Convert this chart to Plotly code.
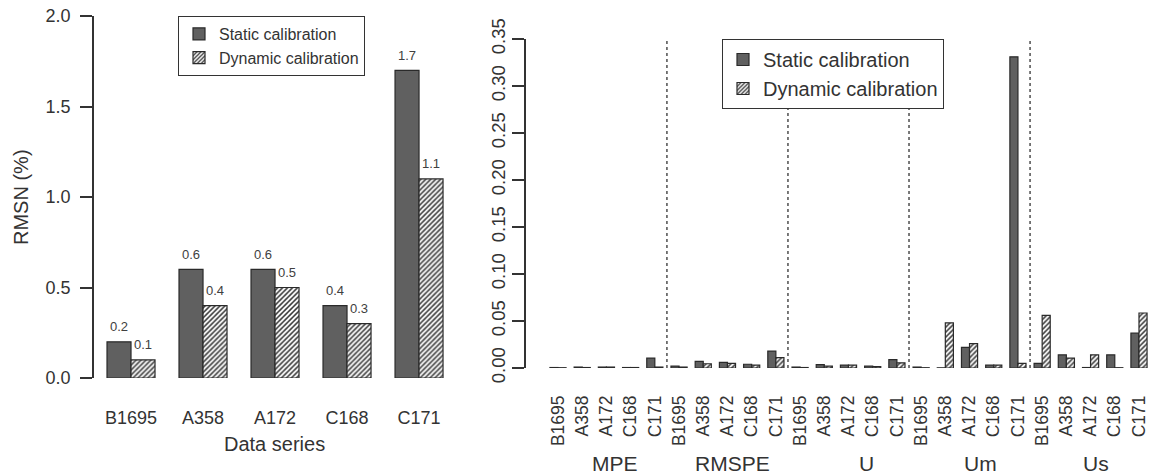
import plotly.graph_objects as go

# ---------------- data ----------------
series = ["B1695", "A358", "A172", "C168", "C171"]
rmsn_static = [0.2, 0.6, 0.6, 0.4, 1.7]
rmsn_dynamic = [0.1, 0.4, 0.5, 0.3, 1.1]

measures = ["MPE", "RMSPE", "U", "Um", "Us"]
mpe_static = [0.0005, 0.001, 0.001, 0.0005, 0.0105]
mpe_dynamic = [0.0003, 0.0005, 0.001, 0.0005, 0.001]
rmspe_static = [0.002, 0.007, 0.006, 0.004, 0.018]
rmspe_dynamic = [0.001, 0.0045, 0.005, 0.003, 0.011]
u_static = [0.001, 0.0035, 0.003, 0.002, 0.009]
u_dynamic = [0.0005, 0.002, 0.003, 0.0015, 0.0055]
um_static = [0.001, 0.0002, 0.022, 0.003, 0.331]
um_dynamic = [0.0003, 0.048, 0.026, 0.003, 0.005]
us_static = [0.005, 0.014, 0.0005, 0.014, 0.037]
us_dynamic = [0.056, 0.0105, 0.014, 0.0003, 0.0585]

W, H = 1151, 474
FONT = "Liberation Sans, Arial, sans-serif"
TXT = "#333333"
STATIC_FILL = "#606060"
EDGE = "#2a2a2a"

static_all = mpe_static + rmspe_static + u_static + um_static + us_static
dynamic_all = mpe_dynamic + rmspe_dynamic + u_dynamic + um_dynamic + us_dynamic
labels_all = series * len(measures)
xpos = list(range(len(labels_all)))

hatch = dict(shape="/", fgcolor="#3a3a3a", bgcolor="white", size=3.5, solidity=0.45, fillmode="replace")

fig = go.Figure()

# left panel
fig.add_trace(go.Bar(x=series, y=rmsn_static, name="Static calibration",
                     marker=dict(color=STATIC_FILL, line=dict(color=EDGE, width=1.2)),
                     xaxis="x", yaxis="y", legend="legend", offsetgroup="s"))
fig.add_trace(go.Bar(x=series, y=rmsn_dynamic, name="Dynamic calibration",
                     marker=dict(color="white", pattern=hatch, line=dict(color=EDGE, width=1.2)),
                     xaxis="x", yaxis="y", legend="legend", offsetgroup="d"))

# right panel
fig.add_trace(go.Bar(x=xpos, y=static_all, name="Static calibration",
                     marker=dict(color=STATIC_FILL, line=dict(color=EDGE, width=1.2)),
                     xaxis="x2", yaxis="y2", legend="legend2", offsetgroup="s"))
fig.add_trace(go.Bar(x=xpos, y=dynamic_all, name="Dynamic calibration",
                     marker=dict(color="white", pattern=hatch, line=dict(color=EDGE, width=1.2)),
                     xaxis="x2", yaxis="y2", legend="legend2", offsetgroup="d"))

# pixel helpers
def px_x(p):
    return p / W

def px_y(p):
    return (H - p) / H

annotations = []
# value labels on left bars
for s, v in zip(series, rmsn_static):
    annotations.append(dict(x=s, y=v, xref="x", yref="y", text=f"{v:.1f}", showarrow=False,
                            xanchor="center", yanchor="middle",
                            xshift=-12, yshift=15, font=dict(size=13, color="#404040", family=FONT)))
for s, v in zip(series, rmsn_dynamic):
    annotations.append(dict(x=s, y=v, xref="x", yref="y", text=f"{v:.1f}", showarrow=False,
                            xanchor="center", yanchor="middle",
                            xshift=12, yshift=15, font=dict(size=13, color="#404040", family=FONT)))

# axis titles
annotations.append(dict(x=px_x(21), y=px_y(197), xref="paper", yref="paper", text="RMSN (%)",
                        xanchor="center", yanchor="middle",
                        textangle=-90, showarrow=False, font=dict(size=20, color=TXT, family=FONT)))
annotations.append(dict(x=px_x(274), y=px_y(444), xref="paper", yref="paper", text="Data series",
                        xanchor="center", yanchor="middle",
                        showarrow=False, font=dict(size=20, color=TXT, family=FONT)))

# measure group labels
group_label_x = [2.36, 7.19, 12.73, 17.44, 22.23]
for m, gx in zip(measures, group_label_x):
    annotations.append(dict(x=gx, y=px_y(463), xref="x2", yref="paper", text=m, showarrow=False,
                            xanchor="center", yanchor="middle",
                            font=dict(size=21, color=TXT, family=FONT)))

# dotted separators between measure groups
shapes = []
n = len(series)
for k in range(1, len(measures)):
    sx = k * n - 0.5
    shapes.append(dict(type="line", xref="x2", yref="y2", x0=sx, x1=sx, y0=0, y1=0.35,
                       line=dict(color="#222222", width=1.2, dash="dot"), layer="below"))

axis_common = dict(showgrid=False, zeroline=False, color=TXT, automargin=False)

fig.update_layout(
    width=W, height=H,
    margin=dict(l=0, r=0, t=0, b=0, autoexpand=False),
    paper_bgcolor="white", plot_bgcolor="white",
    font=dict(family=FONT, color=TXT, size=18),
    barmode="group", bargap=1/3, bargroupgap=0,
    showlegend=True,
    xaxis=dict(domain=[px_x(94), px_x(460)], range=[-0.514, 4.569], type="category",
               showline=False, ticks="", tickfont=dict(size=18), ticklabelstandoff=27,
               anchor="y", **axis_common),
    yaxis=dict(domain=[px_y(378), px_y(16)], range=[0, 2], tickvals=[0, 0.5, 1.0, 1.5, 2.0],
               tickformat=".1f", showline=True, linecolor="#333333", linewidth=1.5,
               ticks="outside", ticklen=12, tickwidth=1.5, tickcolor="#333333",
               tickfont=dict(size=18), ticklabelstandoff=6, anchor="x", **axis_common),
    xaxis2=dict(domain=[px_x(526), px_x(1150)], range=[-1.322, 24.455],
                tickvals=xpos, ticktext=labels_all, tickangle=-90,
                showline=False, ticks="", tickfont=dict(size=17.5), ticklabelstandoff=23,
                anchor="y2", **axis_common),
    yaxis2=dict(domain=[px_y(368), px_y(39)], range=[0, 0.35],
                tickvals=[0, 0.05, 0.10, 0.15, 0.20, 0.25, 0.30, 0.35], tickformat=".2f",
                tickangle=-90, showline=True, linecolor="#333333", linewidth=1.5,
                ticks="outside", ticklen=12, tickwidth=1.5, tickcolor="#333333",
                tickfont=dict(size=18.5), ticklabelstandoff=0, anchor="x2", **axis_common),
    legend=dict(x=px_x(178), y=px_y(16), xanchor="left", yanchor="top",
                bgcolor="white", bordercolor="#333333", borderwidth=1,
                font=dict(size=16, color=TXT, family=FONT), itemwidth=30,
                tracegroupgap=0),
    legend2=dict(x=px_x(722), y=px_y(39), xanchor="left", yanchor="top",
                 bgcolor="white", bordercolor="#333333", borderwidth=1,
                 font=dict(size=20, color=TXT, family=FONT), itemwidth=30,
                 tracegroupgap=0),
    annotations=annotations,
    shapes=shapes,
)

fig.write_html("out.html")
